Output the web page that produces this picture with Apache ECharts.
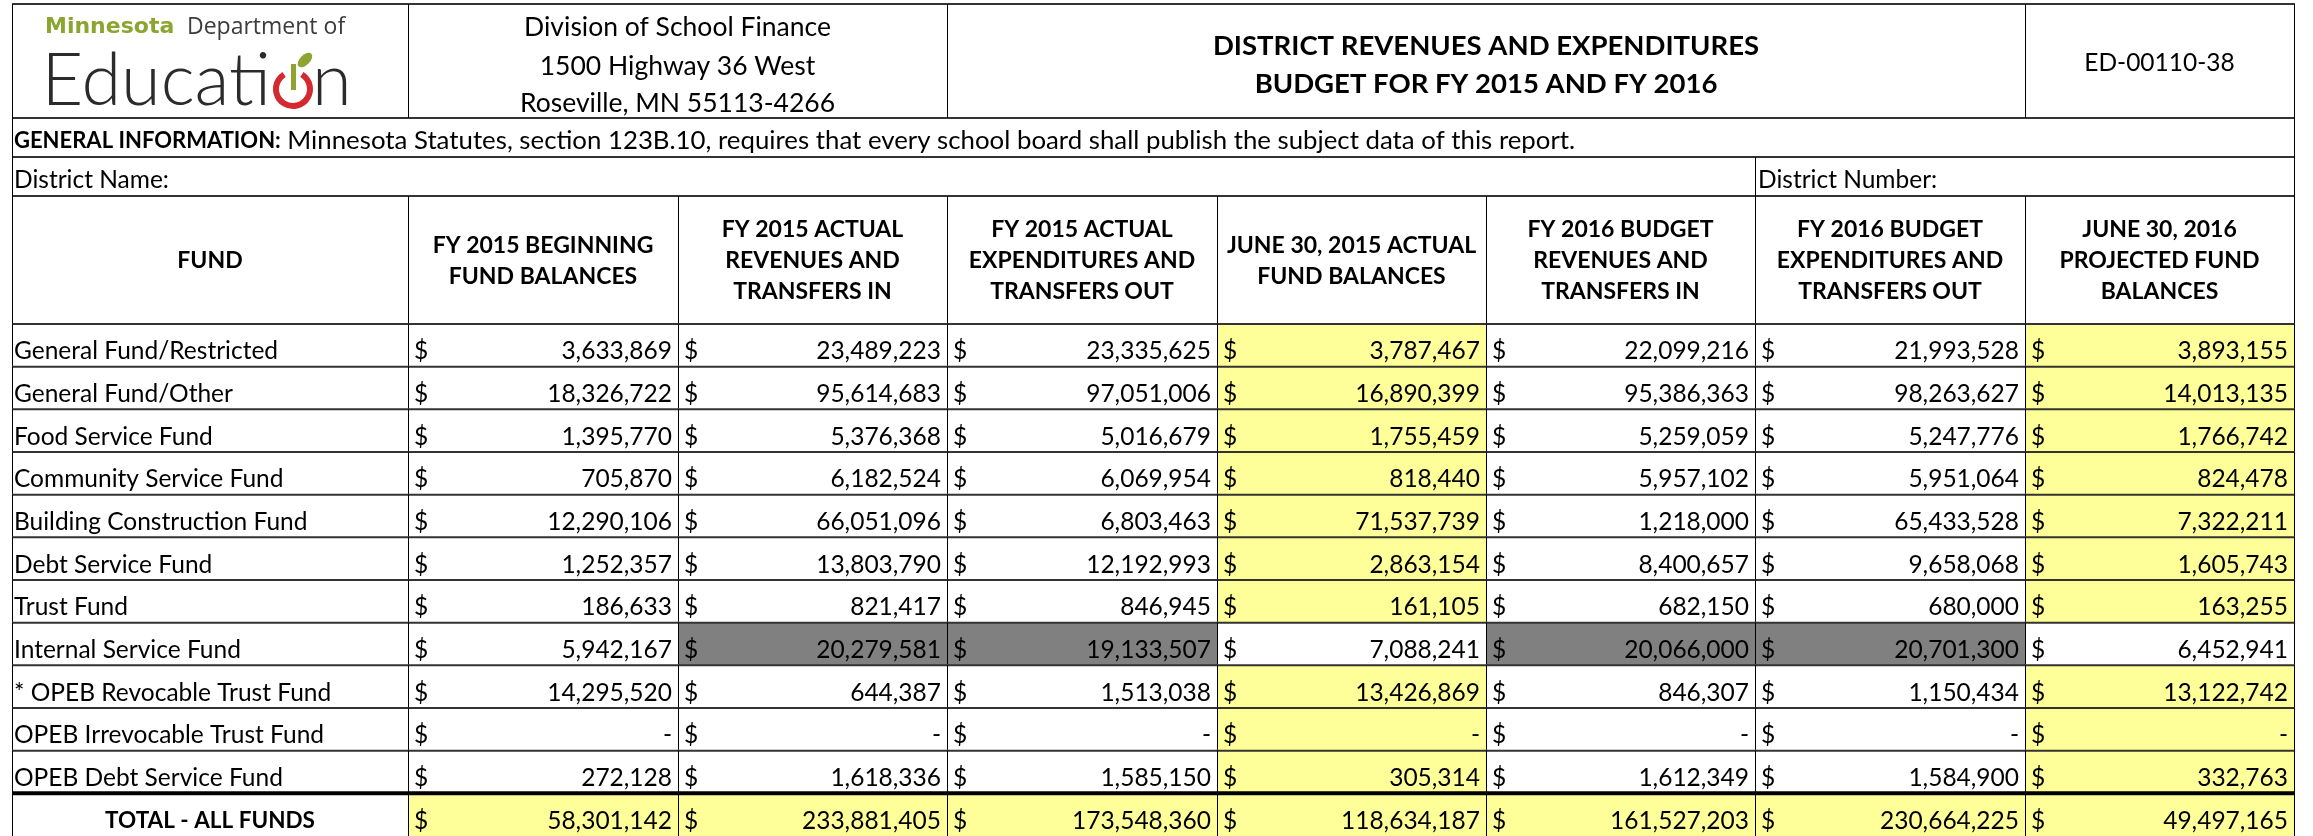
<!DOCTYPE html>
<html>
<head>
<meta charset="utf-8">
<title>District Revenues and Expenditures</title>
<script src="https://cdn.jsdelivr.net/npm/echarts@6/dist/echarts.min.js"></script>
<style>
  html, body { margin: 0; padding: 0; background: #fff; }
  #main { width: 2313px; height: 836px; }
</style>
</head>
<body>
<div id="main"></div>
<script>
// values
var funds = [
  'General Fund/Restricted',
  'General Fund/Other',
  'Food Service Fund',
  'Community Service Fund',
  'Building Construction Fund',
  'Debt Service Fund',
  'Trust Fund',
  'Internal Service Fund',
  '* OPEB Revocable Trust Fund',
  'OPEB Irrevocable Trust Fund',
  'OPEB Debt Service Fund'
];
var columnTitles = [
  'FUND',
  'FY 2015 BEGINNING\nFUND BALANCES',
  'FY 2015 ACTUAL\nREVENUES AND\nTRANSFERS IN',
  'FY 2015 ACTUAL\nEXPENDITURES AND\nTRANSFERS OUT',
  'JUNE 30, 2015 ACTUAL\nFUND BALANCES',
  'FY 2016 BUDGET\nREVENUES AND\nTRANSFERS IN',
  'FY 2016 BUDGET\nEXPENDITURES AND\nTRANSFERS OUT',
  'JUNE 30, 2016\nPROJECTED FUND\nBALANCES'
];
var beginBalances2015 = [3633869, 18326722, 1395770, 705870, 12290106, 1252357, 186633, 5942167, 14295520, 0, 272128];
var actualRevenues2015 = [23489223, 95614683, 5376368, 6182524, 66051096, 13803790, 821417, 20279581, 644387, 0, 1618336];
var actualExpenditures2015 = [23335625, 97051006, 5016679, 6069954, 6803463, 12192993, 846945, 19133507, 1513038, 0, 1585150];
var actualBalances2015 = [3787467, 16890399, 1755459, 818440, 71537739, 2863154, 161105, 7088241, 13426869, 0, 305314];
var budgetRevenues2016 = [22099216, 95386363, 5259059, 5957102, 1218000, 8400657, 682150, 20066000, 846307, 0, 1612349];
var budgetExpenditures2016 = [21993528, 98263627, 5247776, 5951064, 65433528, 9658068, 680000, 20701300, 1150434, 0, 1584900];
var projectedBalances2016 = [3893155, 14013135, 1766742, 824478, 7322211, 1605743, 163255, 6452941, 13122742, 0, 332763];
var totalLabel = 'TOTAL - ALL FUNDS';
var totals = [58301142, 233881405, 173548360, 118634187, 161527203, 230664225, 49497165];

// layout and styles
var FONT = 'Lato, "Open Sans", sans-serif';
var BODY = '24.5px ' + FONT;
var BOLD = 'bold 23px ' + FONT;
var colEdges = [12, 408, 678, 947, 1217, 1486, 1755, 2025, 2294];
var headTop = 4, infoTop = 118, nameTop = 157, colHeadTop = 196, bodyTop = 324;
var rowH = 42.8;
var YELLOW = '#ffff99', GREY = '#808080', HLINE = '#333333';

var valueColumns = [beginBalances2015, actualRevenues2015, actualExpenditures2015, actualBalances2015,
  budgetRevenues2016, budgetExpenditures2016, projectedBalances2016];
var rowNames = funds.concat([totalLabel]);

function fmt(v) {
  return v === 0 ? '-' : v.toLocaleString('en-US');
}

function cellFill(r, c) {
  if (r === funds.length) return c === 0 ? '#fff' : YELLOW;
  if (funds[r] === 'Internal Service Fund') return [2, 3, 5, 6].indexOf(c) >= 0 ? GREY : '#fff';
  return (c === 4 || c === 7) ? YELLOW : '#fff';
}

var cells = [];
rowNames.forEach(function (name, r) {
  cells.push([0, r, 0]);
  for (var c = 1; c <= 7; c++) {
    cells.push([c, r, r < funds.length ? valueColumns[c - 1][r] : totals[c - 1]]);
  }
});

function renderCell(params, api) {
  var c = api.value(0), r = api.value(1);
  var a = api.coord([colEdges[c], r]);
  var b = api.coord([colEdges[c + 1], r]);
  var band = api.size([0, 1])[1];
  var x0 = Math.round(a[0]), x1 = Math.round(b[0]);
  var y0 = a[1] - band / 2, y1 = a[1] + band / 2;
  var ty = a[1] + 6;
  var isTotal = r === funds.length;
  var kids = [{
    type: 'rect',
    shape: { x: x0, y: y0, width: x1 - x0, height: band },
    style: { fill: cellFill(r, c) }
  }];
  if (c === 0) {
    kids.push({
      type: 'text',
      style: isTotal
        ? { text: rowNames[r], x: (x0 + x1) / 2, y: ty, align: 'center', verticalAlign: 'middle', font: 'bold 22.5px ' + FONT, fill: '#000' }
        : { text: rowNames[r], x: x0 + 2, y: ty, align: 'left', verticalAlign: 'middle', font: BODY, fill: '#000' }
    });
  } else {
    kids.push({
      type: 'text',
      style: { text: '$', x: x0 + 6, y: ty, align: 'left', verticalAlign: 'middle', font: BODY, fill: '#000' }
    });
    kids.push({
      type: 'text',
      style: { text: fmt(api.value(2)), x: x1 - 6, y: ty, align: 'right', verticalAlign: 'middle', font: BODY, fill: '#000' }
    });
  }
  kids.push({
    type: 'line',
    shape: { x1: x0, y1: y0, x2: x1 + 1, y2: y0 },
    style: { stroke: isTotal ? '#000' : HLINE, lineWidth: isTotal ? 4 : 2 }
  });
  kids.push({
    type: 'line',
    shape: { x1: x0 + 0.5, y1: y0, x2: x0 + 0.5, y2: y1 },
    style: { stroke: '#000', lineWidth: 1 }
  });
  if (c === 7) {
    kids.push({
      type: 'line',
      shape: { x1: x1 + 0.5, y1: y0, x2: x1 + 0.5, y2: y1 },
      style: { stroke: '#000', lineWidth: 1 }
    });
  }
  return { type: 'group', children: kids };
}

// header block (title rows above the table body)
function hline(y, x0, x1) {
  return { type: 'line', shape: { x1: x0, y1: y, x2: x1, y2: y }, style: { stroke: HLINE, lineWidth: 2 } };
}
function vline(x, y0, y1) {
  return { type: 'line', shape: { x1: x + 0.5, y1: y0, x2: x + 0.5, y2: y1 }, style: { stroke: '#000', lineWidth: 1 } };
}
function label(text, x, y, font, align, fill) {
  return { type: 'text', style: { text: text, x: x, y: y, font: font, align: align || 'center', verticalAlign: 'middle', fill: fill || '#000' } };
}

var L = colEdges[0], R = colEdges[colEdges.length - 1];
var header = [
  { type: 'rect', shape: { x: 0, y: 0, width: 2313, height: bodyTop }, style: { fill: '#fff' } },
  hline(headTop, L, R + 1), hline(infoTop, L, R + 1), hline(nameTop, L, R + 1), hline(colHeadTop, L, R + 1),
  vline(L, headTop, bodyTop), vline(R, headTop, bodyTop),
  vline(colEdges[1], headTop, infoTop), vline(colEdges[3], headTop, infoTop), vline(colEdges[7], headTop, infoTop),
  vline(colEdges[6], nameTop, colHeadTop),
  // logo
  label('Minnesota', 45, 27, 'bold 22px "DejaVu Sans", sans-serif', 'left', '#8ca530'),
  label('Department of', 187, 27, '23px "Open Sans", sans-serif', 'left', '#3c3c3c'),
  label('Educati', 271, 82, '300 72px ' + FONT, 'right', '#2b2b2b'),
  label('n', 312, 82, '300 72px ' + FONT, 'left', '#2b2b2b'),
  { type: 'arc', shape: { cx: 293, cy: 89, r: 17, startAngle: -Math.PI / 2 + 0.55, endAngle: Math.PI * 1.5 - 0.55, clockwise: true },
    style: { stroke: '#d42a2f', lineWidth: 6, fill: null } },
  { type: 'rect', shape: { x: 291, y: 64, width: 5, height: 26 }, style: { fill: '#8ca530' } },
  { type: 'circle', x: 305, y: 60, rotation: Math.PI / 4, scaleY: 0.55, shape: { cx: 0, cy: 0, r: 9 }, style: { fill: '#8ca530' } },
  // address and title
  label('Division of School Finance', (colEdges[1] + colEdges[3]) / 2, 27, '26.5px ' + FONT),
  label('1500 Highway 36 West', (colEdges[1] + colEdges[3]) / 2, 66, '26.5px ' + FONT),
  label('Roseville, MN 55113-4266', (colEdges[1] + colEdges[3]) / 2, 103, '26.5px ' + FONT),
  label('DISTRICT REVENUES AND EXPENDITURES', (colEdges[3] + colEdges[7]) / 2, 46, 'bold 27.5px ' + FONT),
  label('BUDGET FOR FY 2015 AND FY 2016', (colEdges[3] + colEdges[7]) / 2, 84, 'bold 27.5px ' + FONT),
  label('ED-00110-38', (colEdges[7] + R) / 2, 63, '24.5px ' + FONT),
  {
    type: 'text',
    style: {
      text: '{b|GENERAL INFORMATION:} Minnesota Statutes, section 123B.10, requires that every school board shall publish the subject data of this report.',
      x: L + 2, y: 141, verticalAlign: 'middle', align: 'left', font: '25.8px ' + FONT, fill: '#000',
      rich: { b: { font: 'bold 22px ' + FONT, fill: '#000' } }
    }
  },
  label('District Name:', L + 2, 180, BODY, 'left'),
  label('District Number:', colEdges[6] + 3, 180, BODY, 'left')
];
colEdges.forEach(function (x, i) {
  if (i > 0 && i < colEdges.length - 1) header.push(vline(x, colHeadTop, bodyTop));
});
columnTitles.forEach(function (t, i) {
  var g = label(t, (colEdges[i] + colEdges[i + 1]) / 2, 261, BOLD);
  g.style.lineHeight = 31;
  header.push(g);
});

var option = {
  animation: false,
  grid: { left: 0, top: bodyTop, width: 2313, height: rowH * rowNames.length },
  xAxis: { type: 'value', min: 0, max: 2313, show: false },
  yAxis: { type: 'category', data: rowNames, inverse: true, show: false },
  graphic: { elements: header },
  series: [{
    type: 'custom',
    renderItem: renderCell,
    data: cells,
    clip: false
  }]
};

var chart = echarts.init(document.getElementById('main'));
chart.setOption(option);
</script>
</body>
</html>
